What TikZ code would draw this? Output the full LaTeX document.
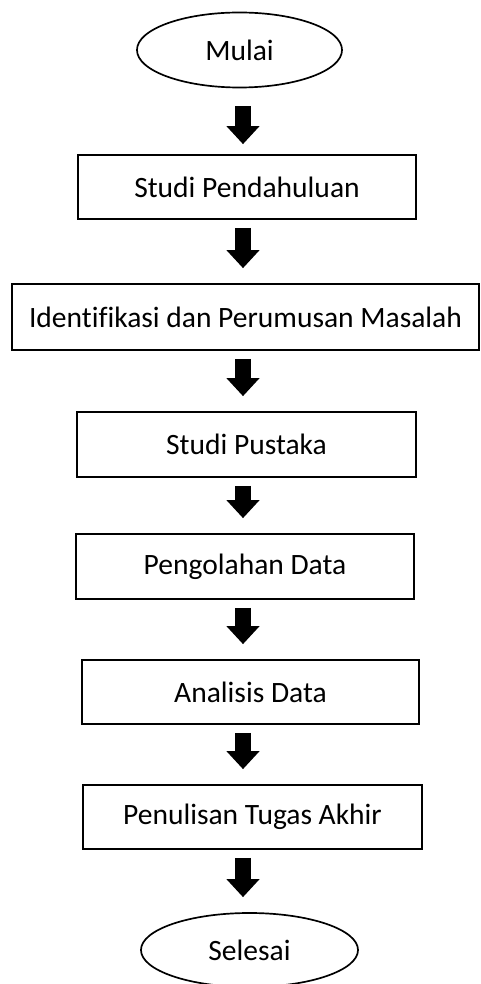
\documentclass[tikz,border=0pt]{standalone}
\usepackage{fontspec}
\setmainfont{Carlito}[Ligatures=NoCommon]
\usetikzlibrary{shapes.geometric}
\usetikzlibrary{arrows.meta}

\tikzset{
  stepbox/.style={draw, line width=1.2pt, rectangle, inner sep=0pt, minimum height=1.6cm},
  endpoint/.style={draw, line width=1.2pt, ellipse, inner sep=0pt},
  flowarrow/.style={line width=0.4cm, -{Triangle[width=0.8cm, length=0.45cm]},
    shorten <=0.2cm, shorten >=0.375cm}
}

\begin{document}
\begin{tikzpicture}[font=\fontsize{21}{25}\selectfont]
\begin{scope}[x=0.025cm, y=-0.025cm]

\useasboundingbox (0,0) rectangle (480,984);

\node[endpoint, minimum width=5.125cm, minimum height=1.875cm] (mulai) at (239.5,50) {Mulai};
\node[stepbox, minimum width=8.45cm] (pendahuluan) at (247,187) {Studi Pendahuluan};
\node[stepbox, minimum width=11.675cm, minimum height=1.65cm] (identifikasi) at (245.5,317) {Identifikasi dan Perumusan Masalah};
\node[stepbox, minimum width=8.475cm, minimum height=1.625cm] (pustaka) at (246.5,444.5) {Studi Pustaka};
\node[stepbox, minimum width=8.45cm, minimum height=1.625cm] (pengolahan) at (245,566.5) {Pengolahan Data};
\node[stepbox, minimum width=8.425cm] (analisis) at (250.5,692) {Analisis Data};
\node[stepbox, minimum width=8.475cm] (penulisan) at (252.5,817) {Penulisan Tugas Akhir};
\node[endpoint, minimum width=5.425cm, minimum height=1.85cm] (selesai) at (249.5,950) {Selesai};

\coordinate (ax) at (243,0);

\draw[flowarrow, shorten <=0.45cm, shorten >=0.25cm] (mulai.south -| ax) -- (pendahuluan.north -| ax);
\draw[flowarrow] (pendahuluan.south -| ax) -- (identifikasi.north -| ax);
\draw[flowarrow] (identifikasi.south -| ax) -- (pustaka.north -| ax);
\draw[flowarrow] (pustaka.south -| ax) -- (pengolahan.north -| ax);
\draw[flowarrow] (pengolahan.south -| ax) -- (analisis.north -| ax);
\draw[flowarrow] (analisis.south -| ax) -- (penulisan.north -| ax);
\draw[flowarrow] (penulisan.south -| ax) -- (selesai.north -| ax);

\end{scope}
\end{tikzpicture}
\end{document}
